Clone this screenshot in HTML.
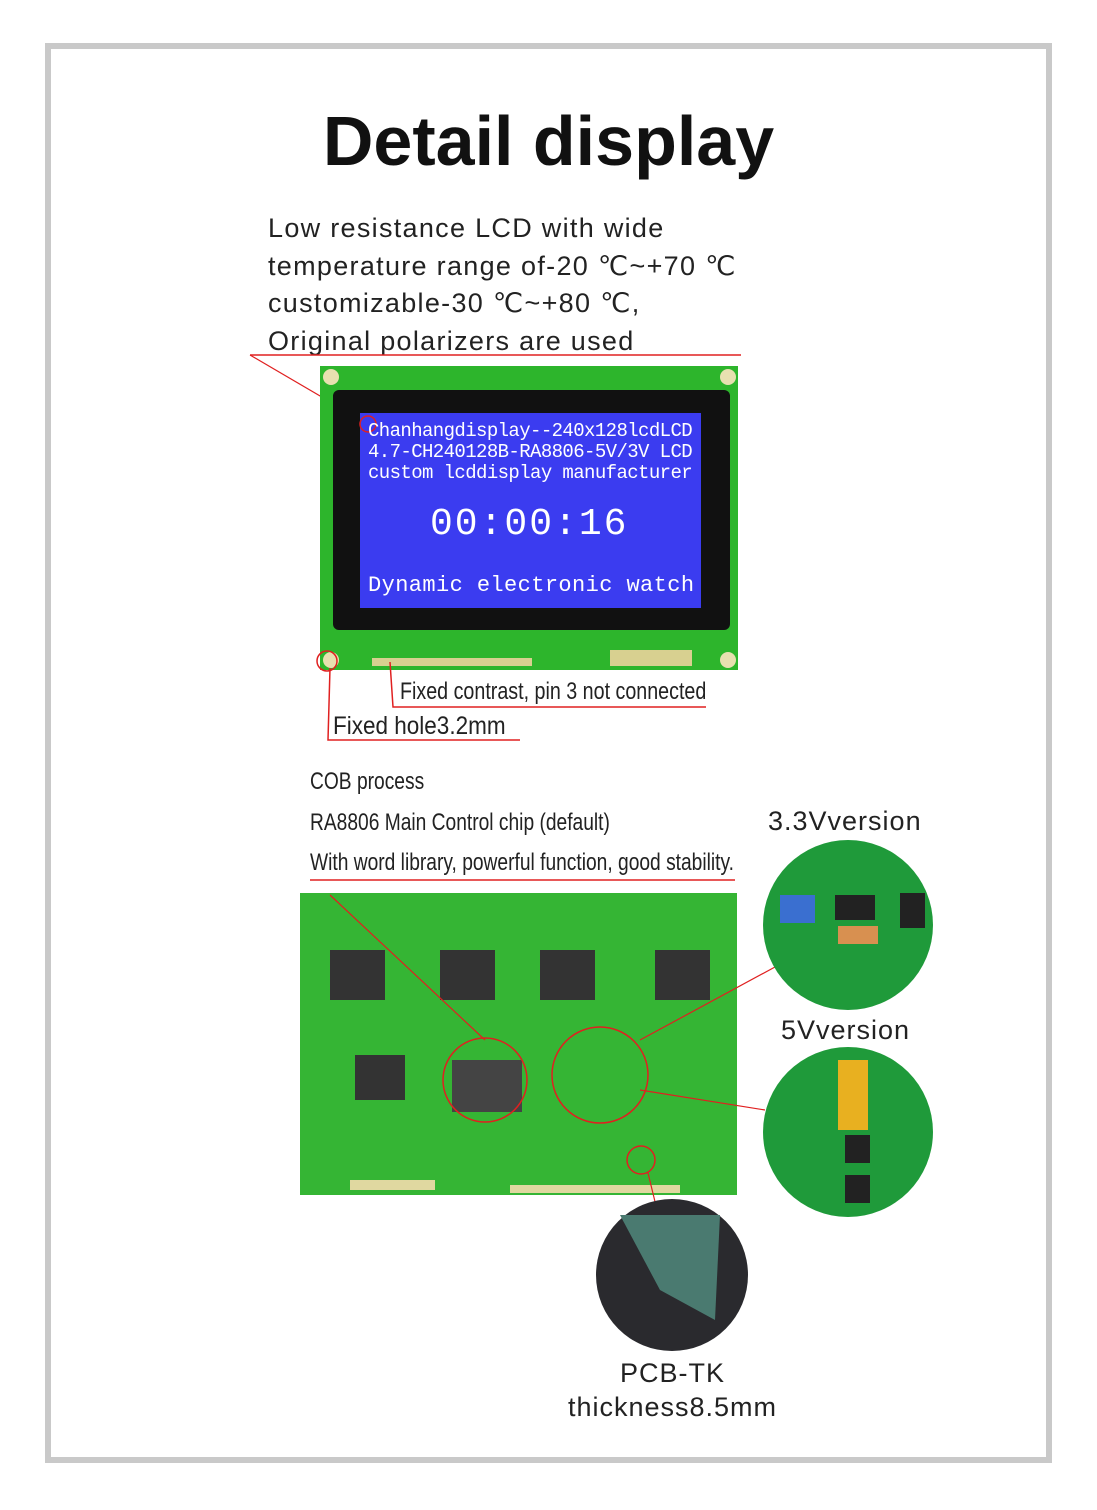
<!DOCTYPE html>
<html><head><meta charset="utf-8"><style>
body{margin:0;width:1097px;height:1510px;background:#fff;position:relative;overflow:hidden;font-family:"Liberation Sans",sans-serif}
.a{position:absolute}
.frame{left:45px;top:43px;width:995px;height:1408px;border:6px solid #c9c9c9}
.t{color:#222}
.mono{font-family:"Liberation Mono",monospace;color:#fff;white-space:nowrap}
.cn{font-family:"Liberation Sans",sans-serif;color:#222;white-space:nowrap}
</style></head><body>
<div class="a frame"></div>
<div class="a t" style="left:0;width:1097px;top:101px;text-align:center;font-size:70px;font-weight:bold;color:#111">Detail display</div>
<div class="a t" style="left:268px;top:210px;font-size:27px;line-height:37.5px;letter-spacing:1.3px">Low resistance LCD with wide<br>temperature range of-20 ℃~+70 ℃<br>customizable-30 ℃~+80 ℃,<br>Original polarizers are used</div>
<svg class="a" style="left:0;top:0" width="1097" height="1510">
<line x1="250" y1="355" x2="741" y2="355" stroke="#e02020" stroke-width="1.5"/>
<line x1="250" y1="355" x2="368" y2="424" stroke="#e02020" stroke-width="1.2"/>
<rect x="320" y="366" width="418" height="304" fill="#2db52c"/>
<rect x="333" y="390" width="397" height="240" rx="6" fill="#111"/>
<rect x="360" y="413" width="341" height="195" fill="#3b3cf0"/>
<circle cx="331" cy="377" r="8" fill="#e8e0b0"/><circle cx="728" cy="377" r="8" fill="#e8e0b0"/>
<circle cx="331" cy="660" r="8" fill="#e8e0b0"/><circle cx="728" cy="660" r="8" fill="#e8e0b0"/>
<rect x="372" y="658" width="160" height="8" fill="#d8d090"/><rect x="610" y="650" width="82" height="16" fill="#d8d090"/>
<circle cx="368" cy="424" r="8" fill="none" stroke="#e02020" stroke-width="1.5"/>
<circle cx="327" cy="661" r="10" fill="none" stroke="#e02020" stroke-width="1.5"/>
<polyline points="390,662 393,707 706,707" fill="none" stroke="#e02020" stroke-width="1.5"/>
<polyline points="330,668 328,740 520,740" fill="none" stroke="#e02020" stroke-width="1.5"/>
<rect x="300" y="893" width="437" height="302" fill="#35b534"/>
<rect x="330" y="950" width="55" height="50" fill="#333"/><rect x="440" y="950" width="55" height="50" fill="#333"/>
<rect x="540" y="950" width="55" height="50" fill="#333"/><rect x="655" y="950" width="55" height="50" fill="#333"/>
<rect x="355" y="1055" width="50" height="45" fill="#333"/><rect x="452" y="1060" width="70" height="52" fill="#444"/>
<rect x="350" y="1180" width="85" height="10" fill="#e0d8a0"/><rect x="510" y="1185" width="170" height="8" fill="#e0d8a0"/>
<circle cx="485" cy="1080" r="42" fill="none" stroke="#e02020" stroke-width="1.5"/>
<circle cx="600" cy="1075" r="48" fill="none" stroke="#e02020" stroke-width="1.5"/>
<circle cx="641" cy="1160" r="14" fill="none" stroke="#e02020" stroke-width="1.5"/>
<line x1="310" y1="880" x2="735" y2="880" stroke="#e02020" stroke-width="1.5"/>
<line x1="330" y1="895" x2="485" y2="1040" stroke="#e02020" stroke-width="1.2"/>
<line x1="640" y1="1040" x2="775" y2="967" stroke="#e02020" stroke-width="1.2"/>
<line x1="640" y1="1090" x2="765" y2="1110" stroke="#e02020" stroke-width="1.2"/>
<line x1="648" y1="1173" x2="690" y2="1345" stroke="#e02020" stroke-width="1.2"/>
<circle cx="848" cy="925" r="85" fill="#1f9a3a"/>
<rect x="780" y="895" width="35" height="28" fill="#3a6fd0"/><rect x="835" y="895" width="40" height="25" fill="#222"/>
<rect x="838" y="926" width="40" height="18" fill="#d89050"/><rect x="900" y="893" width="25" height="35" fill="#222"/>
<circle cx="848" cy="1132" r="85" fill="#1f9a3a"/>
<rect x="838" y="1060" width="30" height="70" fill="#e8b020"/>
<rect x="845" y="1135" width="25" height="28" fill="#222"/><rect x="845" y="1175" width="25" height="28" fill="#222"/>
<circle cx="672" cy="1275" r="76" fill="#2a2a2e"/>
<polygon points="620,1215 720,1215 715,1320 660,1290" fill="#4a7a70"/>
</svg>
<div class="a mono" style="left:368px;top:421px;font-size:19px;line-height:21px;letter-spacing:-0.6px">Chanhangdisplay--240x128lcdLCD<br>4.7-CH240128B-RA8806-5V/3V LCD<br>custom lcddisplay manufacturer</div>
<div class="a mono" style="left:430px;top:503px;font-size:38px;letter-spacing:2px">00:00:16</div>
<div class="a mono" style="left:368px;top:573px;font-size:22px;letter-spacing:0.4px">Dynamic electronic watch</div>
<div class="a cn" style="left:400px;top:678px;font-size:24px;transform:scaleX(0.82);transform-origin:left">Fixed contrast, pin 3 not connected</div>
<div class="a cn" style="left:333px;top:712px;font-size:25px;transform:scaleX(0.9);transform-origin:left">Fixed hole3.2mm</div>
<div class="a cn" style="left:310px;top:768px;font-size:24px;transform:scaleX(0.8);transform-origin:left">COB process</div>
<div class="a cn" style="left:310px;top:809px;font-size:24px;transform:scaleX(0.8);transform-origin:left">RA8806 Main Control chip (default)</div>
<div class="a cn" style="left:310px;top:849px;font-size:24px;transform:scaleX(0.8);transform-origin:left">With word library, powerful function, good stability.</div>
<div class="a t" style="left:768px;top:806px;font-size:27px;letter-spacing:1px">3.3Vversion</div>
<div class="a t" style="left:781px;top:1015px;font-size:27px;letter-spacing:1px">5Vversion</div>
<div class="a t" style="left:560px;top:1356px;width:225px;text-align:center;font-size:27px;line-height:34px;letter-spacing:1px">PCB-TK<br>thickness8.5mm</div>
</body></html>
